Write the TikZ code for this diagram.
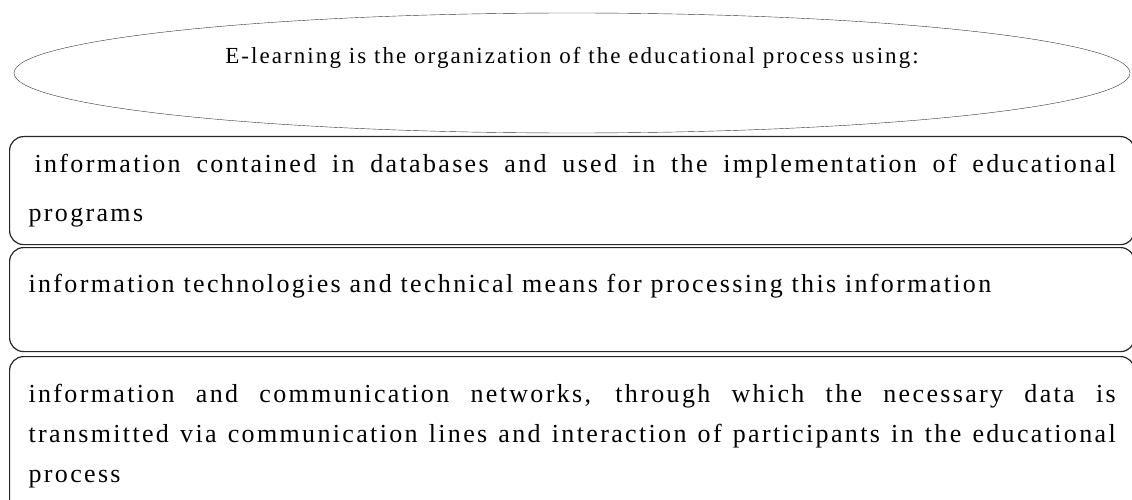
\documentclass[tikz,border=0pt]{standalone}
\usepackage{fontspec}
\setmainfont[LetterSpace=9]{Liberation Serif}
\usetikzlibrary{shapes.geometric}
\hyphenpenalty=10000
\exhyphenpenalty=10000

\begin{document}
\begin{tikzpicture}[x=1pt,y=-1pt,
	titleoval/.style={ellipse, draw=black!80, thin, minimum width=1116pt, minimum height=120pt, inner sep=0pt, text height=16pt, text depth=35pt, font=\fontsize{23}{26}\selectfont},
	itembox/.style={rectangle, rounded corners=14pt, draw=black!85, line width=1.2pt, anchor=north west, text width=1087pt, align=justify, inner xsep=19pt, inner ysep=0pt, font=\fontsize{26}{40}\selectfont}]
	\clip (0,0) rectangle (1132,500);
	\node at (572,73) [titleoval] (title) {E-learning is the organization of the educational process using:};
	\node at (9,136) [itembox, minimum height=108pt, font=\fontsize{26}{49}\selectfont] (data) {\hspace*{6pt}information contained in databases and used in the implementation of educational\linebreak programs};
	\node at (9,247) [itembox, minimum height=104pt, text height=17pt, text depth=31pt] (tech) {information technologies and technical means for processing this information};
	\node at (9,356) [itembox, minimum height=160pt] (nets) {information and communication networks, through which the necessary data is\linebreak transmitted via communication lines and interaction of participants in the educational process};
\end{tikzpicture}
\end{document}
